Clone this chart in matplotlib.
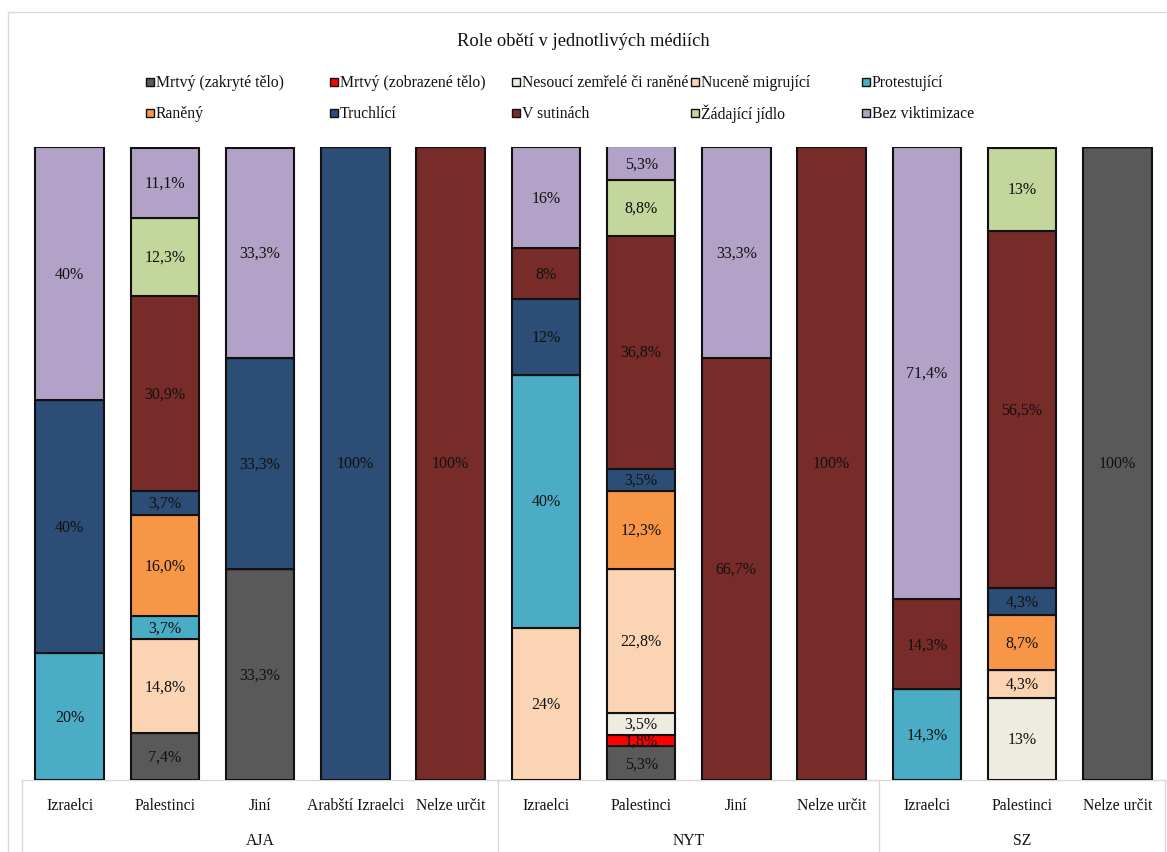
import matplotlib
matplotlib.use("Agg")
import matplotlib.pyplot as plt
from matplotlib.patches import Rectangle
from matplotlib.lines import Line2D

plt.rcParams['font.family'] = ['Liberation Serif', 'DejaVu Serif']

title = "Role obětí v jednotlivých médiích"
groups = ["AJA", "NYT", "SZ"]
group_sizes = [5, 4, 3]
categories = ["Izraelci", "Palestinci", "Jiní", "Arabští Izraelci", "Nelze určit",
              "Izraelci", "Palestinci", "Jiní", "Nelze určit",
              "Izraelci", "Palestinci", "Nelze určit"]
# number of decimals shown per bar (None = general format)
decimals = [0, 1, 1, 0, 0, 0, 1, 1, 0, 1, None, 0]

series = ["Mrtvý (zakryté tělo)", "Mrtvý (zobrazené tělo)", "Nesoucí zemřelé či raněné",
          "Nuceně migrující", "Protestující", "Raněný", "Truchlící", "V sutinách",
          "Žádající jídlo", "Bez viktimizace"]
colors = ["#595959", "#FF0000", "#EEECE1", "#FBD4B4", "#4BACC6",
          "#F79646", "#2C4D75", "#772C2A", "#C3D69B", "#B3A2C7"]

mrtvy_zakryte  = [0, 7.4, 33.3, 0, 0, 0, 5.3, 0, 0, 0, 0, 100]
mrtvy_zobraz   = [0, 0, 0, 0, 0, 0, 1.8, 0, 0, 0, 0, 0]
nesouci        = [0, 0, 0, 0, 0, 0, 3.5, 0, 0, 0, 13, 0]
nucene         = [0, 14.8, 0, 0, 0, 24, 22.8, 0, 0, 0, 4.3, 0]
protestujici   = [20, 3.7, 0, 0, 0, 40, 0, 0, 0, 14.3, 0, 0]
raneny         = [0, 16.0, 0, 0, 0, 0, 12.3, 0, 0, 0, 8.7, 0]
truchlici      = [40, 3.7, 33.3, 100, 0, 12, 3.5, 0, 0, 0, 4.3, 0]
v_sutinach     = [0, 30.9, 0, 0, 100, 8, 36.8, 66.7, 100, 14.3, 56.5, 0]
zadajici       = [0, 12.3, 0, 0, 0, 0, 8.8, 0, 0, 0, 13, 0]
bez_viktim     = [40, 11.1, 33.3, 0, 0, 16, 5.3, 33.3, 0, 71.4, 0, 0]

data = [mrtvy_zakryte, mrtvy_zobraz, nesouci, nucene, protestujici,
        raneny, truchlici, v_sutinach, zadajici, bez_viktim]

W, H = 1167, 853
fig = plt.figure(figsize=(W / 100, H / 100), dpi=100)
ax = fig.add_axes([22 / W, 1 - 781 / H, (1165 - 22) / W, (781 - 148) / H])

txtc = "#111111"

def fmt(v, d):
    if d is None:
        s = ("%.1f" % v)
        if s.endswith(".0"):
            s = s[:-2]
    else:
        s = ("%." + str(d) + "f") % v
    return s.replace(".", ",") + "%"

n = len(categories)
x = list(range(n))
bottoms = [0.0] * n
for vals, col in zip(data, colors):
    ax.bar(x, vals, bottom=bottoms, width=0.72, color=col, edgecolor="#111111",
           linewidth=1.5, zorder=3)
    for i, v in enumerate(vals):
        if v > 0:
            ax.text(i, bottoms[i] + v / 2, fmt(v, decimals[i]), ha="center", va="center",
                    fontsize=11.5, color=txtc, zorder=4)
    bottoms = [b + v for b, v in zip(bottoms, vals)]

ax.set_xlim(-0.5, n - 0.5)
ax.set_ylim(0, 100)
ax.set_yticks([])
for s in ["top", "left", "right"]:
    ax.spines[s].set_visible(False)
ax.spines["bottom"].set_color("#D9D9D9")
ax.spines["bottom"].set_linewidth(1)
ax.set_xticks(x)
ax.set_xticklabels(categories, fontsize=11.3, color=txtc)
ax.tick_params(axis="x", length=0, pad=12)

# group separators and labels
trans = ax.get_xaxis_transform()
edges = [-0.5]
for gs in group_sizes:
    edges.append(edges[-1] + gs)
for e in edges:
    ax.add_line(Line2D([e, e], [0, -0.115], transform=trans, color="#D9D9D9",
                       linewidth=1, clip_on=False))
start = -0.5
for g, gs in zip(groups, group_sizes):
    ax.text(start + gs / 2, -0.095, g, transform=trans, ha="center", va="center",
            fontsize=11.3, color=txtc)
    start += gs

# outer frame
fig.patches.append(Rectangle((8 / W, -0.01), 1.02, 1 - 13 / H + 0.01, transform=fig.transFigure,
                             fill=False, edgecolor="#D9D9D9", linewidth=1))

fig.text(0.5, 1 - 42 / H, title, ha="center", va="center", fontsize=13.3, color=txtc)

# legend (row-major, manual placement)
col_x = [150, 334, 516, 695, 866]
row_y = [83, 114]
for k, (lab, col) in enumerate(zip(series, colors)):
    r, c = divmod(k, 5)
    cx, cy = col_x[c], row_y[r]
    fig.patches.append(Rectangle(((cx - 4) / W, 1 - (cy + 4) / H), 8 / W, 8 / H,
                                 transform=fig.transFigure, facecolor=col,
                                 edgecolor="#111111", linewidth=1))
    fig.text((cx + 6) / W, 1 - cy / H, lab, ha="left", va="center", fontsize=11.3, color=txtc)

fig.savefig("out.png", dpi=100)
